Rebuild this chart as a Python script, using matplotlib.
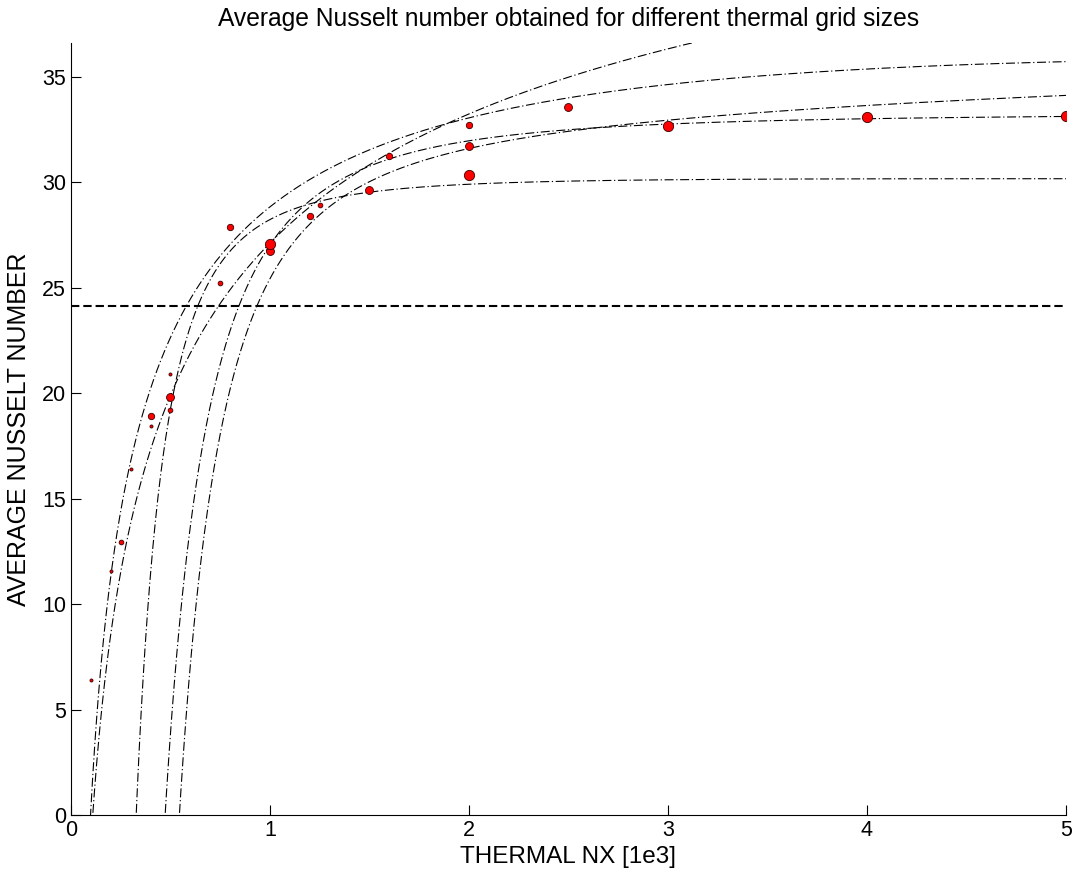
import numpy as np
import matplotlib
matplotlib.use("Agg")
import matplotlib.pyplot as plt

plt.rcParams['font.family'] = ['Liberation Sans', 'DejaVu Sans']

# measured points, one group per marker size (thermal NX in 1e3, Nusselt)
x_tiny = [0.1, 0.2, 0.3, 0.4, 0.5]
y_tiny = [6.4, 11.57, 16.4, 18.45, 20.9]
x_small = [0.25, 0.5, 0.75, 1.0, 1.25]
y_small = [12.94, 19.2, 25.24, 26.9, 28.9]
x_med = [0.4, 0.8, 1.2, 1.6, 2.0]
y_med = [18.9, 27.86, 28.38, 31.25, 32.7]
x_large = [0.5, 1.0, 1.5, 2.0, 2.5]
y_large = [19.83, 26.76, 29.61, 31.7, 33.57]
x_big = [1, 2, 3, 4, 5]
y_big = [27.07, 30.35, 32.67, 33.1, 33.14]

# fitted curves: Nu = c + a*x^b + d*ln(x)
fit_c = [945.958, 1670.511, 30.417, 33.330, 31.170]
fit_a = [-918.8448, -1641.6800, -2.1870, -6.3077, -5.7454]
fit_b = [-0.050, -0.050, -2.364, -2.225, -2.723]
fit_d = [-36.320, -74.590, -0.126, -0.023, 1.875]

nu_ref = 24.13  # reference level

fig = plt.figure(figsize=(10.75, 8.74), dpi=100)
ax = fig.add_axes([0.066, 0.0675, 0.9256, 0.8833])

xx = np.linspace(0.09, 5, 1500)
for c, a, b, d in zip(fit_c, fit_a, fit_b, fit_d):
    yy = c + a * xx**b + d * np.log(xx)
    ax.plot(xx, yy, color='k', lw=0.8, dashes=(8.1, 2.4, 1.1, 2.4))

ax.axhline(nu_ref, color='k', lw=1.5, dashes=(4, 1.9))

groups = [(x_tiny, y_tiny, 2.2), (x_small, y_small, 3.4), (x_med, y_med, 4.6),
          (x_large, y_large, 5.7), (x_big, y_big, 7.4)]
for xs, ys, ms in groups:
    ax.plot(xs, ys, 'o', ms=ms, mfc='red', mec='#3a0000', mew=0.6, ls='none')

ax.set_xlim(0, 5)
ax.set_ylim(0, 36.6)
ax.set_xticks([0, 1, 2, 3, 4, 5])
ax.set_yticks([0, 5, 10, 15, 20, 25, 30, 35])
ax.spines['top'].set_visible(False)
ax.spines['right'].set_visible(False)
ax.tick_params(direction='in', length=7, labelsize=15.5)
ax.set_title('Average Nusselt number obtained for different thermal grid sizes',
             fontsize=17.7, pad=12)
ax.set_xlabel('THERMAL NX [1e3]', fontsize=17.5, labelpad=4)
ax.set_ylabel('AVERAGE NUSSELT NUMBER', fontsize=18, labelpad=8)

fig.savefig('out.png', dpi=100)
